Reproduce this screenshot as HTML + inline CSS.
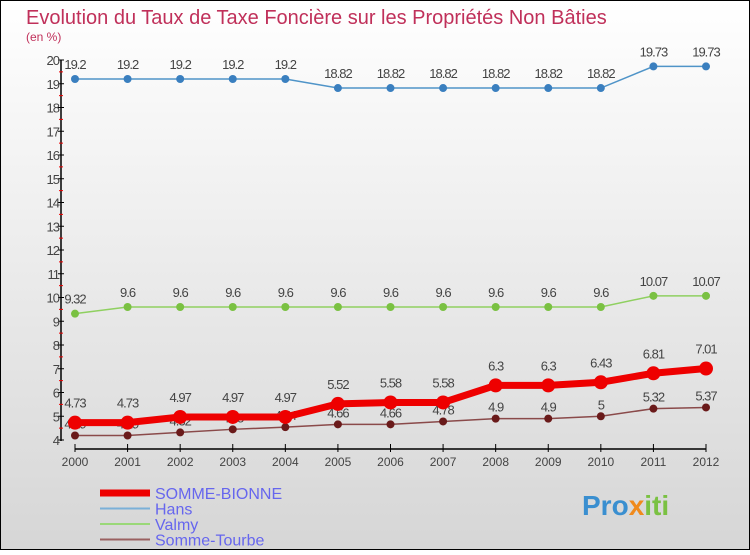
<!DOCTYPE html>
<html><head><meta charset="utf-8"><style>
html,body{margin:0;padding:0}
body{width:750px;height:550px;overflow:hidden;font-family:"Liberation Sans",sans-serif}
</style></head><body>
<svg id="c" width="750" height="550" viewBox="0 0 750 550" xmlns="http://www.w3.org/2000/svg">
<defs><linearGradient id="bg" x1="0" y1="0" x2="0" y2="1"><stop offset="0" stop-color="#ffffff"/><stop offset="1" stop-color="#d6d6d6"/></linearGradient></defs>
<rect x="0.5" y="0.5" width="749" height="549" fill="url(#bg)" stroke="#000"/>
<text x="26" y="24" font-size="20" fill="#c0305a">Evolution du Taux de Taxe Foncière sur les Propriétés Non Bâties</text>
<text x="26" y="41" font-size="12" fill="#c0305a">(en %)</text>
<g id="axes"></g>
<g id="series"></g>
<g id="legend"></g>
<text x="582" y="515" font-size="28" font-weight="bold" fill="#3a8fd0">Pro<tspan fill="#f08a1c">x</tspan><tspan fill="#7ac142">iti</tspan></text>
</svg>
<script>
const years=[2000,2001,2002,2003,2004,2005,2006,2007,2008,2009,2010,2011,2012];
const sommeBionne=[4.73,4.73,4.97,4.97,4.97,5.52,5.58,5.58,6.3,6.3,6.43,6.81,7.01];
const hans=[19.2,19.2,19.2,19.2,19.2,18.82,18.82,18.82,18.82,18.82,18.82,19.73,19.73];
const valmy=[9.32,9.6,9.6,9.6,9.6,9.6,9.6,9.6,9.6,9.6,9.6,10.07,10.07];
const sommeTourbe=[4.19,4.19,4.32,4.45,4.54,4.66,4.66,4.78,4.9,4.9,5,5.32,5.37];
const yTicks=[4,5,6,7,8,9,10,11,12,13,14,15,16,17,18,19,20];
const NS="http://www.w3.org/2000/svg";
const xS=i=>75+i*(706-75)/(years.length-1);
const yS=v=>440-(v-4)*(380/16);
function mk(t,a,p){const e=document.createElementNS(NS,t);for(const k in a)e.setAttribute(k,a[k]);p.appendChild(e);return e;}
const ax=document.getElementById('axes');
let l=mk('line',{x1:61,y1:60,x2:61,y2:441,stroke:'#000','stroke-width':1.5},ax);


l=mk('line',{x1:75,y1:449,x2:706,y2:449,stroke:'#000','stroke-width':1.5},ax);


yTicks.forEach(v=>{
  mk('line',{x1:58,y1:yS(v),x2:64,y2:yS(v),stroke:'#000'},ax);
  if(v<20){mk('line',{x1:59,y1:yS(v+0.5),x2:63,y2:yS(v+0.5),stroke:'#e00'},ax);}
  const t=mk('text',{x:59,y:yS(v)+5,'font-size':13,'text-anchor':'end',fill:'#444','letter-spacing':'-1'},ax);
  t.textContent=v;
  
  
});
years.forEach((y,i)=>{
  mk('line',{x1:xS(i),y1:444,x2:xS(i),y2:452,stroke:'#000'},ax);
  const t=mk('text',{x:xS(i),y:466,'font-size':12,'text-anchor':'middle',fill:'#444'},ax);
  t.textContent=y;
  
  
});
const sg=document.getElementById('series');
function series(name,vals,color,w,r,dot,labOff){
  const g=mk('g',{},sg);
  
  
  mk('polyline',{points:vals.map((v,i)=>xS(i)+','+yS(v)).join(' '),fill:'none',stroke:color,'stroke-width':w},g);
  vals.forEach((v,i)=>{
    const c=mk('circle',{cx:xS(i),cy:yS(v),r:r,fill:dot},g);
    
    
    const t=mk('text',{x:xS(i),y:yS(v)+labOff,'font-size':13,'text-anchor':'middle',fill:'#444','letter-spacing':'-1'},g);
    t.textContent=v;
    
    
  });
}
series('hans',hans,'#4f94c8',1.5,4,'#3a7fbf',-10);
series('valmy',valmy,'#8fd060',1.5,4,'#7ac142',-10);
series('somme-tourbe',sommeTourbe,'#8a4a4a',1.5,4,'#6a1a1a',-7);
series('somme-bionne',sommeBionne,'#ee0000',7,7,'#ee0000',-15);
const lg=document.getElementById('legend');
const lgItems=[['SOMME-BIONNE','#ee0000',7],['Hans','#7ab0d8',2],['Valmy','#9ad878',2],['Somme-Tourbe','#9a6060',2]];
lgItems.forEach((it,i)=>{
  const y=493+i*15.5;
  const g=mk('g',{},lg);
  
  
  mk('line',{x1:100,y1:y,x2:150,y2:y,stroke:it[1],'stroke-width':it[2]},g);
  const t=mk('text',{x:155,y:y+6,'font-size':16,fill:'#6666ee'},g);
  t.textContent=it[0];
});
</script>
</body></html>
